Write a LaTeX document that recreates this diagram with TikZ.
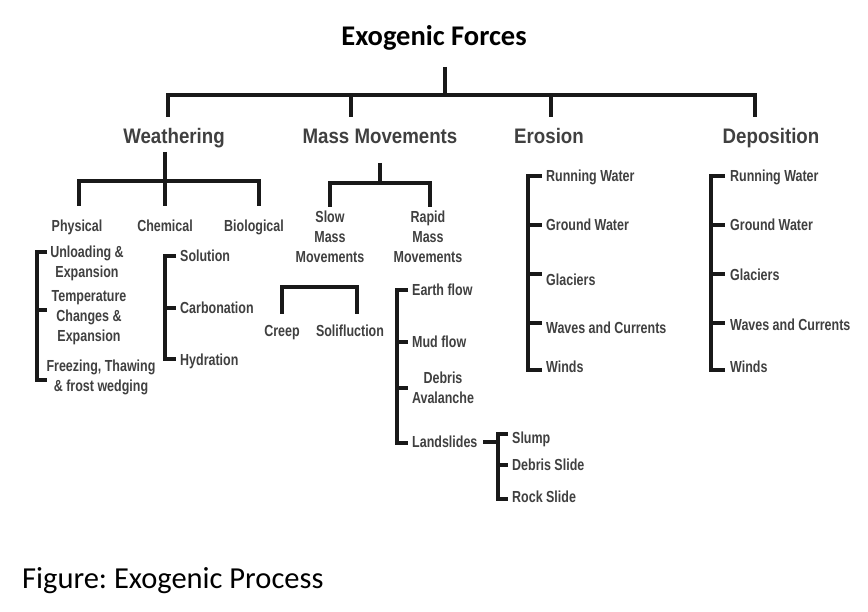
\documentclass[tikz,border=0pt]{standalone}
\usepackage{fontspec}
\setmainfont{Liberation Sans}
\newfontfamily\lvlfont{Liberation Sans}[FakeStretch=0.89]
\newfontfamily\itemfont{Liberation Sans}[FakeStretch=0.78]
\newfontfamily\capfont{Carlito}
\frenchspacing
\tikzset{
  conn/.style={line width=3.5pt, line join=miter, draw=black!90},
  lvl/.style={font=\lvlfont\bfseries\fontsize{21}{24}\selectfont, text=black!75, inner sep=0, text height=15pt, text depth=0pt},
  item/.style={font=\itemfont\bfseries\fontsize{16}{20}\selectfont, text=black!75, inner sep=0, anchor=west, text height=11.5pt, text depth=0pt},
  sitem/.style={font=\itemfont\bfseries\fontsize{16}{20}\selectfont, text=black!75, inner sep=0, text height=11.5pt, text depth=0pt},
  citem/.style={font=\itemfont\bfseries\fontsize{16}{20}\selectfont, text=black!75, inner sep=0, align=center},
}
\begin{document}
\begin{tikzpicture}[x=1pt,y=-1pt]
\fill[white] (0,0) rectangle (868,612);
\useasboundingbox (0,0) rectangle (868,612);

% title and caption
\node[font=\capfont\bfseries\fontsize{28.5}{32}\selectfont, inner sep=0, text height=18pt, text depth=0pt] (root) at (434,37) {Exogenic Forces};
\node[font=\capfont\fontsize{30.5}{34}\selectfont, inner sep=0, anchor=west, text height=20pt, text depth=0pt] (cap) at (22,578) {Figure: Exogenic Process};

% level 1
\node[lvl] (wea) at (174,136) {Weathering};
\node[lvl] (mas) at (380,136) {Mass Movements};
\node[lvl] (ero) at (549,136) {Erosion};
\node[lvl] (dep) at (771,136) {Deposition};

\coordinate (rt) at (445,67);
\coordinate (rb) at (445,95);
\coordinate (d1) at (168,117);
\coordinate (d2) at (351,117);
\coordinate (d3) at (551,117);
\coordinate (d4) at (755,117);
\draw[conn] (rt) -- (rb);
\draw[conn] (d1) |- (rb) -| (d4);
\draw[conn] (d2) -- (d2 |- rb);
\draw[conn] (d3) -- (d3 |- rb);

% Weathering
\node[sitem] (phy) at (77,226) {Physical};
\node[sitem] (che) at (165,226) {Chemical};
\node[sitem] (bio) at (254,226) {Biological};
\coordinate (wt) at (165,152);
\coordinate (wb) at (165,181);
\coordinate (w1) at (79,206);
\coordinate (w2) at (165,206);
\coordinate (w3) at (259,206);
\draw[conn] (wt) -- (wb);
\draw[conn] (w1) |- (wb) -| (w3);
\draw[conn] (w2) -- (wb);

% Physical items
\node[citem] (p1) at (87,263) {Unloading \&\\Expansion};
\node[citem] (p2) at (89,318) {Temperature\\Changes \&\\Expansion};
\node[citem] (p3) at (101,377) {Freezing, Thawing\\\& frost wedging};
\coordinate (pt) at (37,252);
\coordinate (pm) at (37,310);
\coordinate (pb) at (37,380);
\draw[conn] (47,252) -- (pt) -- (pb) -- (47,380);
\draw[conn] (pm) -- (47,310);

% Chemical items
\node[item] (c1) at (180,256) {Solution};
\node[item] (c2) at (180,308) {Carbonation};
\node[item] (c3) at (180,360) {Hydration};
\coordinate (ct) at (165,256);
\coordinate (cb) at (165,359);
\draw[conn] (176,256) -- (ct) -- (cb) -- (176,359);
\draw[conn] (165,308) -- (176,308);

% Mass movements
\node[citem] (slo) at (330,237) {Slow\\Mass\\Movements};
\node[citem] (rap) at (428,237) {Rapid\\Mass\\Movements};
\coordinate (mt) at (380,163);
\coordinate (mb) at (380,183);
\coordinate (m1) at (330,207);
\coordinate (m2) at (430,207);
\draw[conn] (mt) -- (mb);
\draw[conn] (m1) |- (mb) -| (m2);

% Slow
\node[sitem] (cre) at (282,331) {Creep};
\node[sitem] (sol) at (350,331) {Solifluction};
\coordinate (s1) at (282,314);
\coordinate (s2) at (357,314);
\draw[conn] (s1) |- (320,287) -| (s2);

% Rapid
\node[item] (r1) at (412,290) {Earth flow};
\node[item] (r2) at (412,342) {Mud flow};
\node[citem] (r3) at (443,388) {Debris\\Avalanche};
\node[item] (r4) at (412,442) {Landslides};
\coordinate (rvt) at (397,290);
\coordinate (rvb) at (397,443);
\draw[conn] (408,290) -- (rvt) -- (rvb) -- (408,443);
\draw[conn] (397,342) -- (408,342);
\draw[conn] (397,388) -- (408,388);

% Landslides
\node[item] (l1) at (512,438) {Slump};
\node[item] (l2) at (512,465) {Debris Slide};
\node[item] (l3) at (512,497) {Rock Slide};
\coordinate (lc) at (483,442);
\coordinate (lvt) at (498,434);
\coordinate (lvb) at (498,499);
\draw[conn] (lc) -- (lvt |- lc);
\draw[conn] (508,434) -- (lvt) -- (lvb) -- (508,499);
\draw[conn] (498,465) -- (508,465);

% Erosion
\node[item] (e1) at (546,176) {Running Water};
\node[item] (e2) at (546,225) {Ground Water};
\node[item] (e3) at (546,280) {Glaciers};
\node[item] (e4) at (546,328) {Waves and Currents};
\node[item] (e5) at (546,367) {Winds};
\coordinate (evt) at (528,176);
\coordinate (evb) at (528,370);
\draw[conn] (542,176) -- (evt) -- (evb) -- (542,370);
\draw[conn] (528,225) -- (542,225);
\draw[conn] (528,274) -- (542,274);
\draw[conn] (528,323) -- (542,323);

% Deposition
\node[item] (f1) at (730,176) {Running Water};
\node[item] (f2) at (730,225) {Ground Water};
\node[item] (f3) at (730,275) {Glaciers};
\node[item] (f4) at (730,325) {Waves and Currents};
\node[item] (f5) at (730,367) {Winds};
\coordinate (fvt) at (711,176);
\coordinate (fvb) at (711,370);
\draw[conn] (725,176) -- (fvt) -- (fvb) -- (725,370);
\draw[conn] (711,225) -- (725,225);
\draw[conn] (711,274) -- (725,274);
\draw[conn] (711,323) -- (725,323);
\end{tikzpicture}
\end{document}
